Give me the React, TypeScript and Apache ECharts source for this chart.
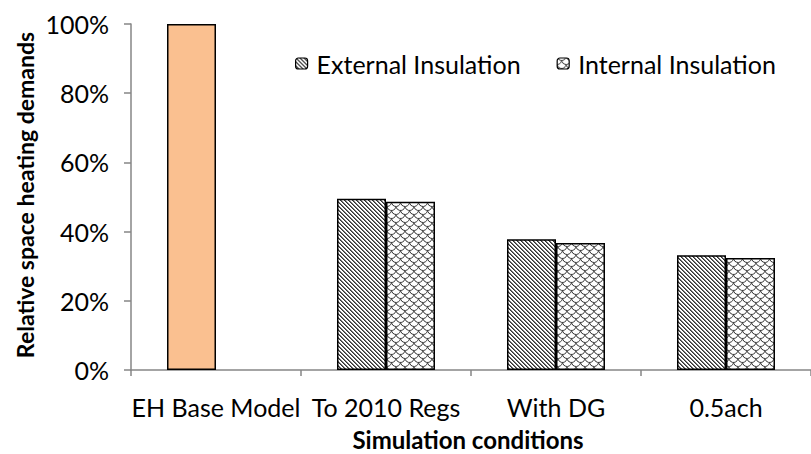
import React, { useEffect, useRef } from "react";
import * as echarts from "echarts";

// Scenario categories along the x axis
const categories = ["EH Base Model", "To 2010 Regs", "With DG", "0.5ach"];
// Relative space heating demand (%) per insulation approach
const externalValues = [100, 49.5, 37.8, 33.2];
const internalValues: (number | null)[] = [null, 48.6, 36.7, 32.4];
const seriesNames = ["External Insulation", "Internal Insulation"];
const yTicks = [0, 20, 40, 60, 80, 100];

const FONT = "Lato";

// Diagonal "\" hatching tile
function makeStripeTile(): HTMLCanvasElement {
  const size = 8;
  const c = document.createElement("canvas");
  c.width = size;
  c.height = size;
  const ctx = c.getContext("2d")!;
  const img = ctx.createImageData(size, size);
  for (let y = 0; y < size; y++) {
    for (let x = 0; x < size; x++) {
      const k = (((x - y) % 4) + 4) % 4;
      const v = k === 0 ? 50 : k === 1 ? 120 : 255;
      const i = (y * size + x) * 4;
      img.data[i] = v;
      img.data[i + 1] = v;
      img.data[i + 2] = v;
      img.data[i + 3] = 255;
    }
  }
  ctx.putImageData(img, 0, 0);
  return c;
}

// Fish-scale / shingle tile
function makeScaleTile(): HTMLCanvasElement {
  const w = 9;
  const h = 8;
  const c = document.createElement("canvas");
  c.width = w;
  c.height = h;
  const ctx = c.getContext("2d")!;
  ctx.fillStyle = "#fff";
  ctx.fillRect(0, 0, w, h);
  ctx.strokeStyle = "#333";
  ctx.lineWidth = 1;
  const r = w / 2;
  const drawScale = (cx: number, cy: number) => {
    ctx.beginPath();
    ctx.arc(cx, cy, r, 0.08 * Math.PI, 0.92 * Math.PI);
    ctx.stroke();
  };
  drawScale(w / 2, -2);
  drawScale(0, h / 2 - 2);
  drawScale(w, h / 2 - 2);
  drawScale(w / 2, h - 2);
  return c;
}

export default function App() {
  const ref = useRef<HTMLDivElement>(null);

  useEffect(() => {
    if (!ref.current) return;
    const chart = echarts.init(ref.current, null, { renderer: "svg" });

    const stripe = makeStripeTile();
    const scale = makeScaleTile();
    const stripePattern: any = {
      image: stripe,
      repeat: "repeat",
      imageWidth: stripe.width,
      imageHeight: stripe.height,
    };
    const scalePattern: any = {
      image: scale,
      repeat: "repeat",
      imageWidth: scale.width,
      imageHeight: scale.height,
    };

    const axisGray = "#868686";
    const barBorder = { borderColor: "#000", borderWidth: 1.5 };

    chart.setOption({
      animation: false,
      backgroundColor: "#fff",
      textStyle: { fontFamily: FONT, color: "#000" },
      grid: { left: 131, right: -4, top: 24, bottom: 84, containLabel: false },
      legend: {
        top: 46,
        left: 290,
        itemWidth: 12,
        itemHeight: 11,
        itemGap: 36,
        textStyle: { fontFamily: FONT, fontSize: 25, color: "#000", padding: [0, 0, 0, 4] },
        data: seriesNames,
        itemStyle: { borderColor: "#000", borderWidth: 1.2 },
      },
      xAxis: {
        type: "category",
        data: categories,
        axisLine: { show: true, lineStyle: { color: axisGray, width: 1.5 } },
        axisTick: { show: true, alignWithLabel: false, length: 6, lineStyle: { color: axisGray, width: 1.5 } },
        axisLabel: { fontFamily: FONT, fontSize: 25, color: "#000", margin: 24, interval: 0 },
        splitLine: { show: false },
      },
      yAxis: {
        type: "value",
        min: 0,
        max: 100,
        interval: 20,
        axisLine: { show: true, lineStyle: { color: axisGray, width: 1.5 } },
        axisTick: { show: true, length: 7, lineStyle: { color: axisGray, width: 1.5 } },
        axisLabel: {
          fontFamily: FONT,
          fontSize: 25,
          color: "#000",
          margin: 22,
          formatter: (v: number) => (yTicks.includes(v) ? `${v}%` : ""),
        },
        splitLine: { show: false },
      },
      graphic: [
        {
          type: "text",
          x: 25,
          y: 195,
          rotation: Math.PI / 2,
          style: {
            text: "Relative space heating demands",
            fontFamily: FONT,
            fontWeight: "bold",
            fontSize: 23,
            fill: "#000",
            textAlign: "center",
            textVerticalAlign: "middle",
          },
        },
        {
          type: "text",
          x: 468,
          y: 439,
          style: {
            text: "Simulation conditions",
            fontFamily: FONT,
            fontWeight: "bold",
            fontSize: 24,
            fill: "#000",
            textAlign: "center",
            textVerticalAlign: "middle",
          },
        },
      ],
      series: [
        {
          name: seriesNames[0],
          type: "bar",
          barWidth: 49,
          barGap: "0%",
          itemStyle: { color: stripePattern, ...barBorder },
          data: externalValues.map((v, i) =>
            i === 0 ? { value: v, itemStyle: { color: "#FAC090", ...barBorder } } : v
          ),
        },
        {
          name: seriesNames[1],
          type: "bar",
          barWidth: 49,
          barGap: "0%",
          itemStyle: { color: scalePattern, ...barBorder },
          data: internalValues,
        },
      ],
    });

    return () => chart.dispose();
  }, []);

  return <div ref={ref} style={{ width: 811, height: 454, position: "fixed", left: 0, top: 0 }} />;
}
